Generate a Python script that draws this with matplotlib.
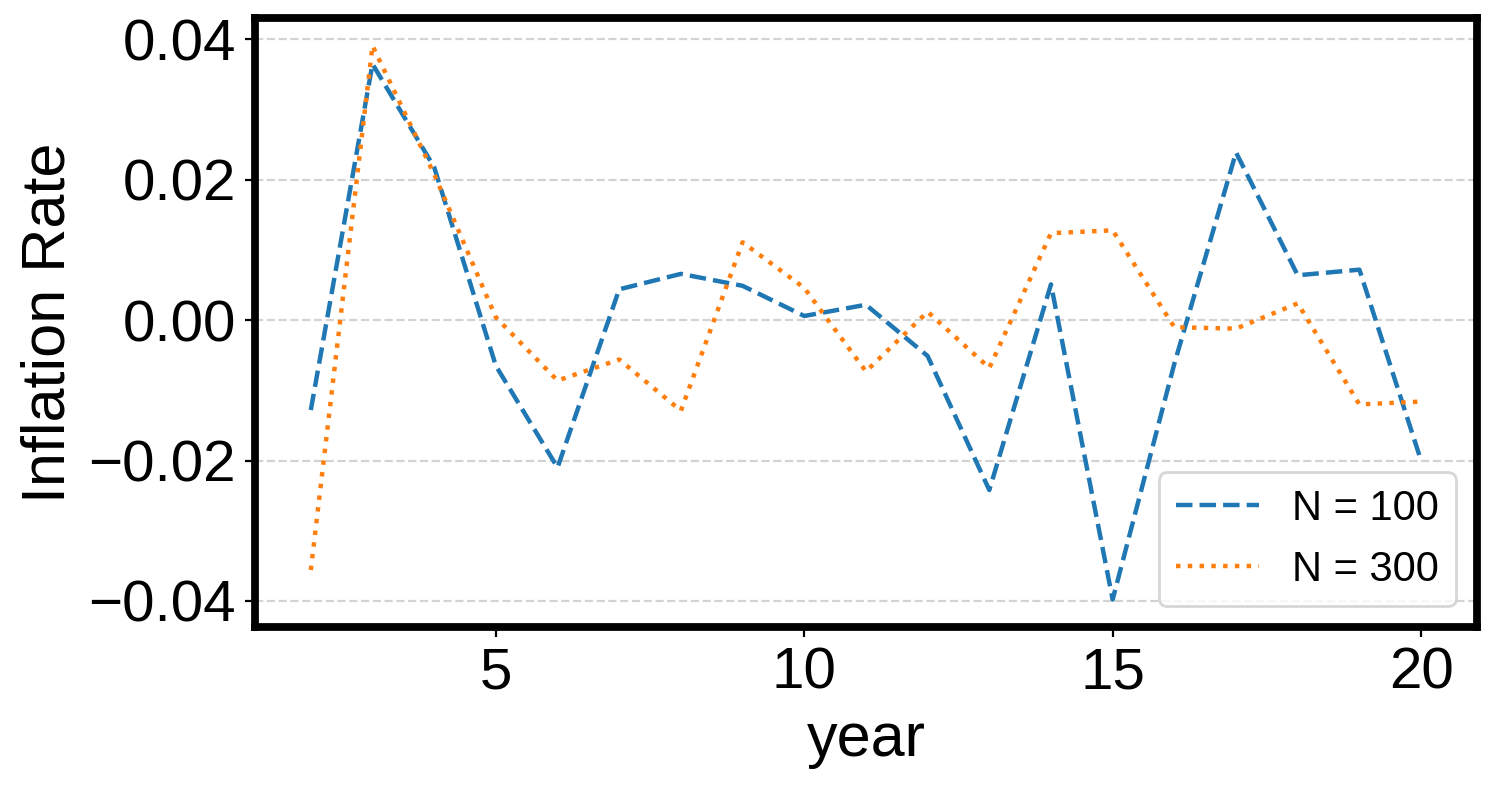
import matplotlib
matplotlib.use("Agg", force=True)

import matplotlib.pyplot as plt

years = list(range(2, 21))

n100 = [-0.0128, 0.0365, 0.0218, -0.0065, -0.0210, 0.0044, 0.0066, 0.0049, 0.0006,
        0.0022, -0.0051, -0.0242, 0.0051, -0.0398, -0.0062, 0.0239, 0.0064, 0.0072, -0.0200]

n300 = [-0.0356, 0.0391, 0.0208, 0.0004, -0.0086, -0.0056, -0.0129, 0.0111, 0.0046,
        -0.0073, 0.0012, -0.0068, 0.0124, 0.0128, -0.0010, -0.0012, 0.0024, -0.0120, -0.0116]

labels = ["N = 100", "N = 300"]

plt.rcParams["font.family"] = ["Liberation Sans", "DejaVu Sans"]

fig = plt.figure(figsize=(7.465, 3.93), dpi=200)
ax = fig.add_axes([0.171, 0.202, 0.818, 0.775])

ax.plot(years, n100, linestyle="--", color="#1f77b4", linewidth=1.6, label=labels[0])
ax.plot(years, n300, linestyle=":", color="#ff7f0e", linewidth=1.6, label=labels[1])

ax.yaxis.grid(True, linestyle="--", color="lightgray", linewidth=0.8)
ax.set_axisbelow(True)

ax.set_xlabel("year", fontsize=22)
ax.set_ylabel("Inflation Rate", fontsize=22)
ax.tick_params(axis="both", labelsize=21)
ax.set_yticks([-0.04, -0.02, 0.0, 0.02, 0.04])
ax.set_xticks([5, 10, 15, 20])

for s in ax.spines.values():
    s.set_linewidth(2.8)
    s.set_color("black")

ax.legend(loc="lower right", fontsize=15)

fig.savefig("out.png", dpi=200)
